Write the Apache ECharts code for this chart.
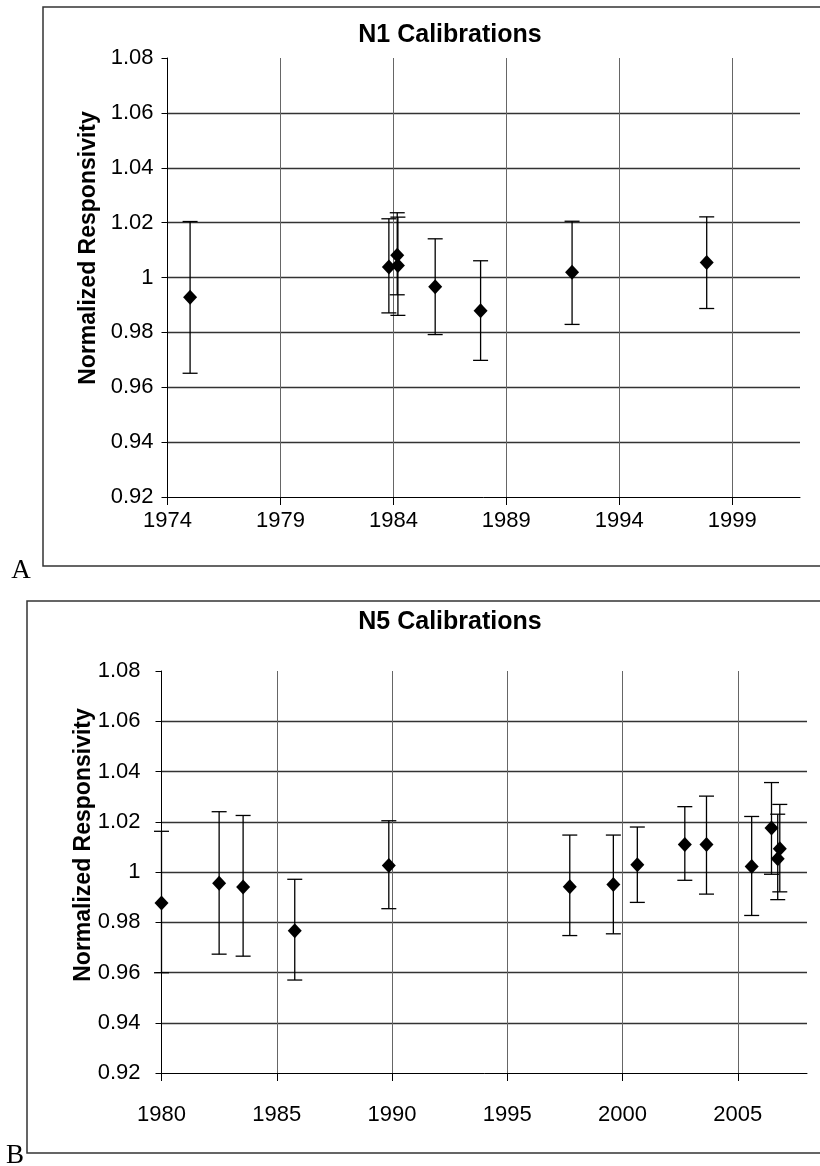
<!DOCTYPE html>
<html><head><meta charset="utf-8">
<script src="https://cdn.jsdelivr.net/npm/echarts@6/dist/echarts.min.js"></script>
<style>html,body{margin:0;padding:0;background:#fff}#c{width:820px;height:1166px}</style>
</head><body><div id="c"></div>
<script>
// ---- N1 calibrations (panel A) ----
const n1Years  = [1975.0, 1983.8, 1984.17, 1984.2, 1985.85, 1987.86, 1991.91, 1997.87];
const n1Values = [0.9928, 1.0038, 1.0081, 1.0044, 0.9966, 0.9879, 1.0019, 1.0055];
const n1Low    = [0.9651, 0.9871, 0.9937, 0.9862, 0.9792, 0.9698, 0.9829, 0.9887];
const n1High   = [1.0204, 1.0214, 1.0236, 1.0220, 1.0141, 1.0061, 1.0205, 1.0221];
// ---- N5 calibrations (panel B) ----
const n5Years  = [1980.0, 1982.5, 1983.54, 1985.78, 1989.86, 1997.71, 1999.6, 2000.64, 2002.7, 2003.64, 2005.6, 2006.46, 2006.82, 2006.73];
const n5Values = [0.9877, 0.9955, 0.9940, 0.9766, 1.0026, 0.9941, 0.9950, 1.0029, 1.0109, 1.0109, 1.0022, 1.0175, 1.0093, 1.0053];
const n5Low    = [0.9599, 0.9673, 0.9665, 0.9570, 0.9854, 0.9747, 0.9754, 0.9879, 0.9967, 0.9912, 0.9827, 0.9991, 0.9921, 0.9890];
const n5High   = [1.0162, 1.0240, 1.0225, 0.9971, 1.0204, 1.0147, 1.0147, 1.0179, 1.0260, 1.0302, 1.0221, 1.0356, 1.0269, 1.0230];
// ---- axes ----
const yMin = 0.92, yMax = 1.08, yStep = 0.02;
const n1XMin = 1974, n1XMax = 2002, n5XMin = 1980, n5XMax = 2008, xStep = 5;
const titles = ['N1 Calibrations', 'N5 Calibrations'];
const yName = 'Normalized Responsivity';
const panelLetters = ['A', 'B'];

const FONT = '"Liberation Sans", Arial, sans-serif';
const chart = echarts.init(document.getElementById('c'), null, {renderer: 'canvas'});

function errItem(params, api) {
  const x = api.value(0), lo = api.value(1), hi = api.value(2);
  const a = api.coord([x, hi]), b = api.coord([x, lo]);
  const w = 7.5;
  const st = {stroke: '#000', lineWidth: 1.3};
  return {type: 'group', children: [
    {type: 'line', shape: {x1: a[0], y1: a[1], x2: b[0], y2: b[1]}, style: st},
    {type: 'line', shape: {x1: a[0]-w, y1: a[1], x2: a[0]+w, y2: a[1]}, style: st},
    {type: 'line', shape: {x1: b[0]-w, y1: b[1], x2: b[0]+w, y2: b[1]}, style: st}
  ]};
}

function xAx(idx, min, max, margin) {
  return {
    type: 'value', gridIndex: idx, min: min, max: max, interval: xStep,
    axisLine: {show: true, lineStyle: {color: '#000', width: 1}},
    axisTick: {show: true, inside: false, length: 8, lineStyle: {color: '#000'}},
    axisLabel: {color: '#000', fontFamily: FONT, fontSize: 22, margin: margin, showMaxLabel: false,
      formatter: v => String(Math.round(v))},
    splitLine: {show: true, showMinLine: false, showMaxLine: false, lineStyle: {color: '#666', width: 1}}
  };
}
function yAx(idx, margin) {
  return {
    type: 'value', gridIndex: idx, min: yMin, max: yMax, interval: yStep,
    axisLine: {show: true, lineStyle: {color: '#000', width: 1}},
    axisTick: {show: true, inside: false, length: 6, lineStyle: {color: '#000'}},
    axisLabel: {color: '#000', fontFamily: FONT, fontSize: 22, margin: margin,
      formatter: v => String(+v.toFixed(2))},
    splitLine: {show: true, showMinLine: false, showMaxLine: false, lineStyle: {color: '#333', width: 1.3}}
  };
}
function nameText(x, y) {
  return {type: 'text', x: x, y: y, rotation: Math.PI / 2,
    style: {text: yName, fill: '#000', font: 'bold 23px ' + FONT, textAlign: 'center', textVerticalAlign: 'middle'}};
}

const option = {
  backgroundColor: '#fff',
  animation: false,
  grid: [
    {left: 167.5, top: 58, width: 632.5, height: 439},
    {left: 161.5, top: 671, width: 645.5, height: 402}
  ],
  xAxis: [xAx(0, n1XMin, n1XMax, 13), xAx(1, n5XMin, n5XMax, 31)],
  yAxis: [yAx(0, 14), yAx(1, 21)],
  graphic: [
    {type: 'rect', shape: {x: 43, y: 7, width: 800, height: 559}, style: {fill: 'none', stroke: '#333', lineWidth: 1.5}, z: -1},
    {type: 'rect', shape: {x: 27, y: 601, width: 820, height: 552}, style: {fill: 'none', stroke: '#333', lineWidth: 1.5}, z: -1},
    {type: 'text', x: 450, y: 35, style: {text: titles[0], fill: '#000', font: 'bold 25px ' + FONT, textAlign: 'center', textVerticalAlign: 'middle'}},
    {type: 'text', x: 450, y: 622, style: {text: titles[1], fill: '#000', font: 'bold 25px ' + FONT, textAlign: 'center', textVerticalAlign: 'middle'}},
    nameText(89, 248),
    nameText(84, 845),
    {type: 'text', x: 21, y: 571, style: {text: panelLetters[0], fill: '#000', font: '27px "Liberation Serif", "Times New Roman", serif', textAlign: 'center', textVerticalAlign: 'middle'}},
    {type: 'text', x: 15, y: 1156, style: {text: panelLetters[1], fill: '#000', font: '27px "Liberation Serif", "Times New Roman", serif', textAlign: 'center', textVerticalAlign: 'middle'}}
  ],
  series: [
    {type: 'custom', xAxisIndex: 0, yAxisIndex: 0, renderItem: errItem, encode: {x: 0, y: [1, 2]},
      data: n1Years.map((x, i) => [x, n1Low[i], n1High[i]]), z: 3},
    {type: 'scatter', xAxisIndex: 0, yAxisIndex: 0, symbol: 'diamond', symbolSize: [14, 15],
      itemStyle: {color: '#000', opacity: 1}, data: n1Years.map((x, i) => [x, n1Values[i]]), z: 4},
    {type: 'custom', xAxisIndex: 1, yAxisIndex: 1, renderItem: errItem, encode: {x: 0, y: [1, 2]},
      data: n5Years.map((x, i) => [x, n5Low[i], n5High[i]]), z: 3},
    {type: 'scatter', xAxisIndex: 1, yAxisIndex: 1, symbol: 'diamond', symbolSize: [14, 15],
      itemStyle: {color: '#000', opacity: 1}, data: n5Years.map((x, i) => [x, n5Values[i]]), z: 4}
  ]
};
chart.setOption(option);
</script></body></html>
